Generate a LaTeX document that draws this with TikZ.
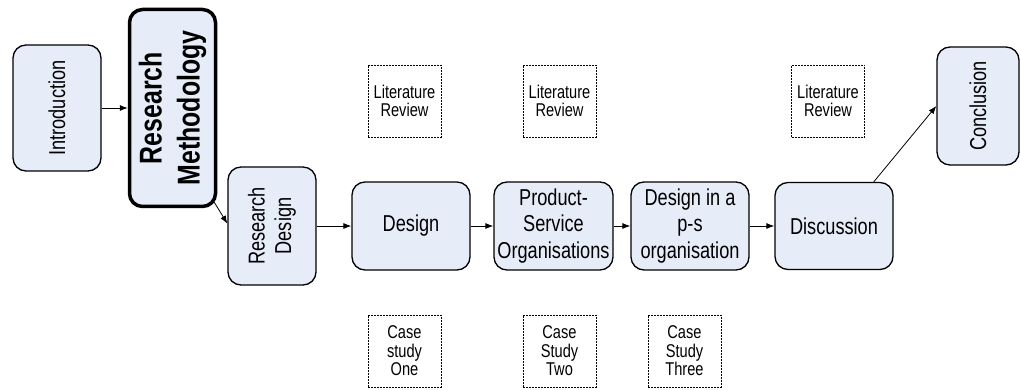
\documentclass[tikz,border=0pt]{standalone}
\usepackage{fontspec}
\setmainfont{Liberation Sans}[FakeStretch=0.79]
\usetikzlibrary{arrows.meta,calc}
\definecolor{boxfill}{RGB}{230,236,248}
\begin{document}
\begin{tikzpicture}[x=1pt,y=-1pt,
 box/.style={draw=black, line width=1.3pt, fill=boxfill, rounded corners=13pt, align=center, inner sep=0pt, font=\fontsize{23}{26.5}\selectfont},
 litbox/.style={draw=black, line width=0.8pt, dash pattern=on 2pt off 1pt, align=center, inner sep=0pt, minimum width=73pt, minimum height=72pt, font=\fontsize{18.5}{18.5}\selectfont},
 arr/.style={-{Latex[length=8pt,width=6pt]}, line width=0.8pt}]
\useasboundingbox (0,0) rectangle (1021,390);
\node[box, rotate=90, minimum width=126pt, minimum height=88pt] (intro) at (57,108) {Introduction};
\node[box, rotate=90, line width=3.5pt, minimum width=197pt, minimum height=86pt, font=\bfseries\fontsize{31.5}{38}\selectfont] (rm) at (172.5,108) {Research\\Methodology};
\node[box, rotate=90, minimum width=118pt, minimum height=88pt] (rd) at (272,226) {Research\\Design};
\node[box, minimum width=118pt, minimum height=88pt] (design) at (411,226) {Design};
\node[box, minimum width=119pt, minimum height=88pt] (ps) at (553.5,226) {Product-\\Service\\Organisations};
\node[box, minimum width=118pt, minimum height=88pt] (dps) at (690,226) {Design in a\\p-s\\organisation};
\node[box, minimum width=118pt, minimum height=87pt] (disc) at (834,226) {Discussion};
\node[box, rotate=90, minimum width=118pt, minimum height=82pt] (concl) at (978,106) {Conclusion};
\node[litbox] (lr1) at (404.5,101) {Literature\\Review};
\node[litbox] (lr2) at (559.5,101) {Literature\\Review};
\node[litbox] (lr3) at (828,101) {Literature\\Review};
\node[litbox] (cs1) at (404.5,351) {Case\\study\\One};
\node[litbox] (cs2) at (559.5,351) {Case\\Study\\Two};
\node[litbox] (cs3) at (684.5,351) {Case\\Study\\Three};
\draw[arr] (intro.south) -- (rm.north);
\draw[arr] ($(rm.south west)+(-3,-6)$) -- (rd.87);
\draw[arr] (rd.south) -- (design.west);
\draw[arr] (design.east) -- (ps.west);
\draw[arr] (ps.east) -- (dps.west);
\draw[arr] (dps.east) -- (disc.west);
\draw[arr] (disc.48) -- (concl.north);
\end{tikzpicture}
\end{document}
